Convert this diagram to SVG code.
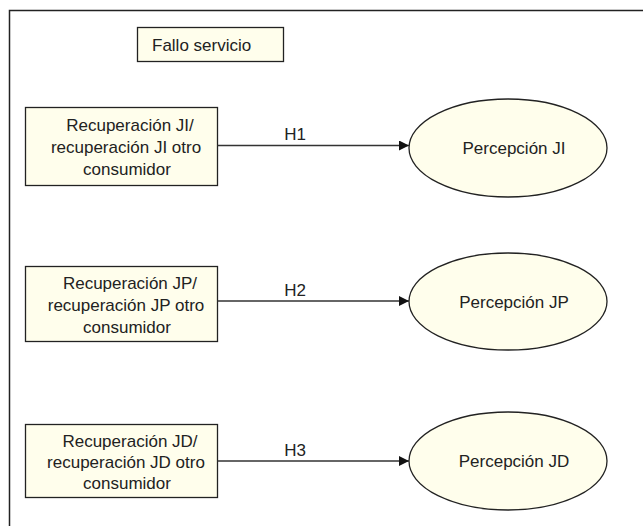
<svg xmlns="http://www.w3.org/2000/svg" width="643" height="526" viewBox="0 0 643 526">
<defs>
<style>
.t{font-family:"Liberation Sans",Arial,Helvetica,sans-serif;font-size:17px;fill:#222}
.c{text-anchor:middle}
.box{fill:#FFFEEC;stroke:#222;stroke-width:1.3}
.conn{stroke:#333;stroke-width:1.6;fill:none}
</style>
<marker id="arr" viewBox="0 0 10 10" refX="10" refY="5" markerWidth="10" markerHeight="10" markerUnits="userSpaceOnUse" orient="auto">
<path d="M0,0 L10,5 L0,10 Z" fill="#111"/>
</marker>
</defs>
<rect width="643" height="526" fill="#fff"/>
<g id="frame">
<path d="M9.5,526 V10.5 H643" fill="none" stroke="#222" stroke-width="1.5"/>
</g>
<g id="fallo">
<rect class="box" x="137.5" y="27.5" width="146" height="34"/>
<text class="t" x="152" y="51">Fallo servicio</text>
</g>
<g id="rec-ji">
<rect class="box" x="25.5" y="107.5" width="192" height="78"/>
<text class="t c" x="130" y="131">Recuperación JI/</text>
<text class="t c" x="126" y="153">recuperación JI otro</text>
<text class="t c" x="127" y="175">consumidor</text>
</g>
<g id="rec-jp">
<rect class="box" x="25.5" y="266.5" width="192" height="75"/>
<text class="t c" x="130" y="288.5">Recuperación JP/</text>
<text class="t c" x="126" y="310.5">recuperación JP otro</text>
<text class="t c" x="127" y="332.5">consumidor</text>
</g>
<g id="rec-jd">
<rect class="box" x="25.5" y="424.5" width="192" height="73"/>
<text class="t c" x="130" y="447">Recuperación JD/</text>
<text class="t c" x="126" y="468">recuperación JD otro</text>
<text class="t c" x="127" y="489">consumidor</text>
</g>
<g id="perc-ji">
<ellipse class="box" cx="508" cy="148" rx="99" ry="49"/>
<text class="t c" x="514" y="154">Percepción JI</text>
</g>
<g id="perc-jp">
<ellipse class="box" cx="508" cy="301.5" rx="99" ry="48.5"/>
<text class="t c" x="514" y="307.5">Percepción JP</text>
</g>
<g id="perc-jd">
<ellipse class="box" cx="508" cy="461" rx="99" ry="49"/>
<text class="t c" x="514" y="467">Percepción JD</text>
</g>
<g id="connectors">
<line class="conn" x1="217.5" y1="145.5" x2="409" y2="145.5" marker-end="url(#arr)"/>
<line class="conn" x1="217.5" y1="301" x2="409" y2="301" marker-end="url(#arr)"/>
<line class="conn" x1="217.5" y1="461" x2="409" y2="461" marker-end="url(#arr)"/>
<text class="t c" x="295" y="140">H1</text>
<text class="t c" x="295" y="296">H2</text>
<text class="t c" x="295" y="456">H3</text>
</g>
</svg>
